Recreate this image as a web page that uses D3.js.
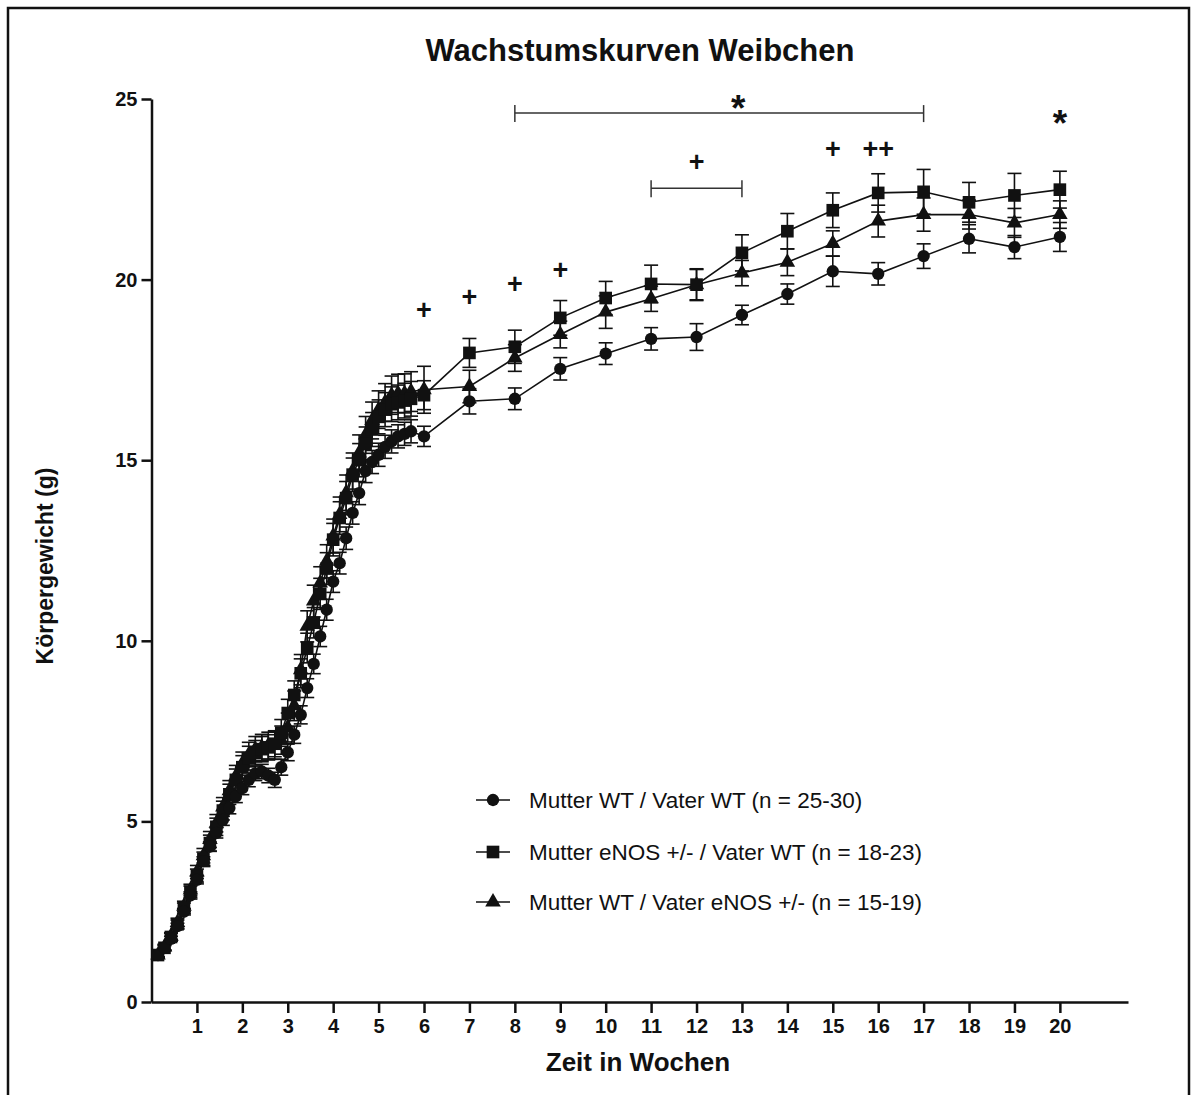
<!DOCTYPE html>
<html>
<head>
<meta charset="utf-8">
<script src="https://cdn.jsdelivr.net/npm/d3@7"></script>
<style>
  body { margin: 0; background: #fff; }
  svg { display: block; }
  text { font-family: Arial, "Liberation Sans", sans-serif; fill: #111; }
</style>
</head>
<body>
<svg id="chart" width="1195" height="1095"></svg>
<script>
// ---------- DATA ----------
// time points in days (daily to day 40, then weekly from week 6 = day 42)
const timeDays = [1,2,3,4,5,6,7,8,9,10,11,12,13,14,15,16,17,18,19,20,
  21,22,23,24,25,26,27,28,29,30,31,32,33,34,35,36,37,38,39,40,
  42,49,56,63,70,77,84,91,98,105,112,119,126,133,140];

const seriesNames = [
  "Mutter WT / Vater WT (n = 25-30)",
  "Mutter eNOS +/- / Vater WT (n = 18-23)",
  "Mutter WT / Vater eNOS +/- (n = 15-19)"
];

const meanWTWT = [1.30,1.50,1.75,2.10,2.50,2.95,3.38,3.90,4.30,4.68,5.04,5.37,5.69,5.92,6.15,6.33,6.38,6.27,6.15,6.50,
  6.91,7.40,7.95,8.69,9.36,10.12,10.86,11.64,12.15,12.84,13.54,14.09,14.70,14.95,15.15,15.37,15.52,15.66,15.73,15.80,
  15.66,16.63,16.70,17.53,17.95,18.36,18.41,19.02,19.60,20.23,20.16,20.65,21.13,20.90,21.18];
const semWTWT = [0.05,0.06,0.07,0.08,0.09,0.10,0.11,0.12,0.13,0.14,0.15,0.16,0.17,0.18,0.19,0.20,0.20,0.20,0.21,0.22,
  0.23,0.24,0.25,0.26,0.27,0.28,0.29,0.30,0.30,0.31,0.31,0.32,0.32,0.32,0.32,0.32,0.32,0.32,0.32,0.32,
  0.28,0.35,0.30,0.31,0.30,0.31,0.37,0.27,0.28,0.42,0.31,0.34,0.39,0.32,0.40];

const meanMutEnos = [1.30,1.50,1.80,2.15,2.60,3.05,3.50,3.95,4.40,4.85,5.30,5.75,6.15,6.50,6.75,6.90,7.00,7.05,7.15,7.45,
  8.00,8.50,9.10,9.80,10.50,11.30,12.00,12.80,13.40,13.95,14.60,15.00,15.45,15.85,16.20,16.40,16.55,16.60,16.65,16.70,
  16.80,17.97,18.14,18.94,19.49,19.88,19.86,20.74,21.34,21.92,22.40,22.43,22.14,22.33,22.49];
const semMutEnos = [0.06,0.08,0.10,0.12,0.14,0.16,0.18,0.20,0.22,0.24,0.26,0.28,0.30,0.32,0.33,0.34,0.35,0.35,0.36,0.37,
  0.38,0.39,0.40,0.41,0.42,0.43,0.44,0.45,0.45,0.46,0.46,0.46,0.47,0.47,0.47,0.47,0.48,0.48,0.48,0.48,
  0.40,0.40,0.46,0.48,0.46,0.52,0.42,0.50,0.49,0.48,0.53,0.62,0.55,0.61,0.51];

const meanVatEnos = [1.30,1.52,1.82,2.20,2.65,3.10,3.60,4.05,4.50,4.95,5.40,5.85,6.25,6.60,6.85,7.00,7.05,7.10,7.10,7.25,
  7.60,8.20,9.20,10.40,11.10,11.60,12.20,12.90,13.50,14.10,14.70,15.20,15.70,16.10,16.40,16.60,16.80,16.85,16.85,16.90,
  16.95,17.04,17.83,18.48,19.10,19.47,19.86,20.18,20.48,21.00,21.62,21.80,21.80,21.57,21.80];
const semVatEnos = [0.06,0.08,0.10,0.12,0.14,0.16,0.18,0.20,0.22,0.24,0.26,0.28,0.30,0.32,0.34,0.35,0.36,0.37,0.38,0.39,
  0.40,0.41,0.42,0.43,0.44,0.45,0.46,0.47,0.48,0.49,0.50,0.50,0.51,0.51,0.52,0.52,0.53,0.53,0.54,0.55,
  0.65,0.45,0.37,0.37,0.45,0.35,0.44,0.35,0.37,0.35,0.44,0.46,0.40,0.40,0.38];

const weekTicks = [1,2,3,4,5,6,7,8,9,10,11,12,13,14,15,16,17,18,19,20];
const yTicks = [0,5,10,15,20,25];

// significance annotations (week, weight level)
const plusMarks = [
  {week: 6, y: 19.16, t: "+"}, {week: 7, y: 19.53, t: "+"}, {week: 8, y: 19.88, t: "+"},
  {week: 9, y: 20.27, t: "+"}, {week: 12, y: 23.26, t: "+"}, {week: 15, y: 23.63, t: "+"},
  {week: 16, y: 23.63, t: "++"}
];
const starMarks = [{week: 12.92, y: 24.85, t: "*"}, {week: 20, y: 24.45, t: "*"}];
const brackets = [{from: 8, to: 17, y: 24.61}, {from: 11, to: 13, y: 22.53}];

// ---------- DRAW ----------
const svg = d3.select("#chart");
const ink = "#111";

// outer frame (bottom edge lies outside the picture)
svg.append("rect").attr("x", 8).attr("y", 8).attr("width", 1181).attr("height", 1200)
  .attr("fill", "none").attr("stroke", ink).attr("stroke-width", 2.5);

const x = d3.scaleLinear().domain([0, 150.5]).range([151.5, 1128]);
const y = d3.scaleLinear().domain([0, 25]).range([1002, 99]);

// title
svg.append("text").attr("x", 640).attr("y", 61).attr("text-anchor", "middle")
  .style("font-size", "31px").style("font-weight", "bold").text("Wachstumskurven Weibchen");

// axes
const xAxis = d3.axisBottom(x).tickValues(weekTicks.map(w => w * 7))
  .tickFormat(d => d / 7).tickSize(11).tickSizeOuter(0).tickPadding(6);
const gx = svg.append("g").attr("transform", "translate(0,1002)").call(xAxis);
gx.select(".domain").attr("stroke", ink).attr("stroke-width", 2.5);
gx.selectAll(".tick line").attr("stroke", ink).attr("stroke-width", 2.5);
gx.selectAll(".tick text").attr("fill", ink).style("font-size", "20px").style("font-weight", "bold")
  .style("font-family", "Arial, 'Liberation Sans', sans-serif");

const yAxis = d3.axisLeft(y).tickValues(yTicks).tickSize(10).tickSizeOuter(0).tickPadding(4);
const gy = svg.append("g").attr("transform", "translate(151.5,0)").call(yAxis);
gy.select(".domain").attr("stroke", ink).attr("stroke-width", 2.5);
gy.selectAll(".tick line").attr("stroke", ink).attr("stroke-width", 2.5);
gy.selectAll(".tick text").attr("fill", ink).style("font-size", "20px").style("font-weight", "bold")
  .style("font-family", "Arial, 'Liberation Sans', sans-serif");

// axis titles
svg.append("text").attr("x", 638).attr("y", 1071).attr("text-anchor", "middle")
  .style("font-size", "26px").style("font-weight", "bold").text("Zeit in Wochen");
svg.append("text").attr("transform", "translate(53,566) rotate(-90)").attr("text-anchor", "middle")
  .style("font-size", "23px").style("font-weight", "bold").text("Körpergewicht (g)");

// series
const symbols = [d3.symbolCircle, d3.symbolSquare, d3.symbolTriangle];
const symSizes = [120, 160, 105];
const series = [
  {name: seriesNames[0], mean: meanWTWT, sem: semWTWT, sym: 0},
  {name: seriesNames[1], mean: meanMutEnos, sem: semMutEnos, sym: 1},
  {name: seriesNames[2], mean: meanVatEnos, sem: semVatEnos, sym: 2}
];
const cap = 7;
const line = d3.line().x(d => x(d.t)).y(d => y(d.m));

const plot = svg.append("g");
series.forEach(s => {
  const pts = timeDays.map((t, i) => ({t, m: s.mean[i], e: s.sem[i]}));
  s.pts = pts;
  const eb = plot.append("g").attr("stroke", ink).attr("stroke-width", 1.6);
  pts.forEach(p => {
    eb.append("line").attr("x1", x(p.t)).attr("x2", x(p.t)).attr("y1", y(p.m - p.e)).attr("y2", y(p.m + p.e));
    eb.append("line").attr("x1", x(p.t) - cap).attr("x2", x(p.t) + cap).attr("y1", y(p.m + p.e)).attr("y2", y(p.m + p.e));
    eb.append("line").attr("x1", x(p.t) - cap).attr("x2", x(p.t) + cap).attr("y1", y(p.m - p.e)).attr("y2", y(p.m - p.e));
  });
  plot.append("path").datum(pts).attr("d", line).attr("fill", "none")
    .attr("stroke", ink).attr("stroke-width", 1.6);
});
[2, 1, 0].forEach(k => {
  const s = series[k];
  plot.append("g").selectAll("path").data(s.pts).join("path")
    .attr("transform", d => `translate(${x(d.t)},${y(d.m)})`)
    .attr("d", d3.symbol().type(symbols[s.sym]).size(symSizes[s.sym]))
    .attr("fill", ink);
});

// significance annotations
brackets.forEach(b => {
  const g = svg.append("g").attr("stroke", "#333").attr("stroke-width", 1.5);
  g.append("line").attr("x1", x(b.from * 7)).attr("x2", x(b.to * 7)).attr("y1", y(b.y)).attr("y2", y(b.y));
  [b.from, b.to].forEach(w => g.append("line").attr("x1", x(w * 7)).attr("x2", x(w * 7))
    .attr("y1", y(b.y) - 8).attr("y2", y(b.y) + 9));
});
svg.selectAll(".plus").data(plusMarks).join("text").attr("class", "plus")
  .attr("x", d => x(d.week * 7)).attr("y", d => y(d.y)).attr("dy", "0.35em")
  .attr("text-anchor", "middle").style("font-size", "27px").style("font-weight", "bold").text(d => d.t);
svg.selectAll(".star").data(starMarks).join("text").attr("class", "star")
  .attr("x", d => x(d.week * 7)).attr("y", d => y(d.y)).attr("dy", "0.45em")
  .attr("text-anchor", "middle").style("font-size", "37px").style("font-weight", "bold").text(d => d.t);

// legend
const legRows = [800, 852, 902];
series.forEach((s, i) => {
  const g = svg.append("g").attr("transform", `translate(0,${legRows[i]})`);
  g.append("line").attr("x1", 476).attr("x2", 510).attr("y1", 0).attr("y2", 0)
    .attr("stroke", ink).attr("stroke-width", 1.6);
  g.append("path").attr("transform", "translate(493,0)")
    .attr("d", d3.symbol().type(symbols[s.sym]).size(symSizes[s.sym])).attr("fill", ink);
  g.append("text").attr("x", 529).attr("y", 0).attr("dy", "0.36em")
    .style("font-size", "22.5px").text(s.name);
});
</script>
</body>
</html>
